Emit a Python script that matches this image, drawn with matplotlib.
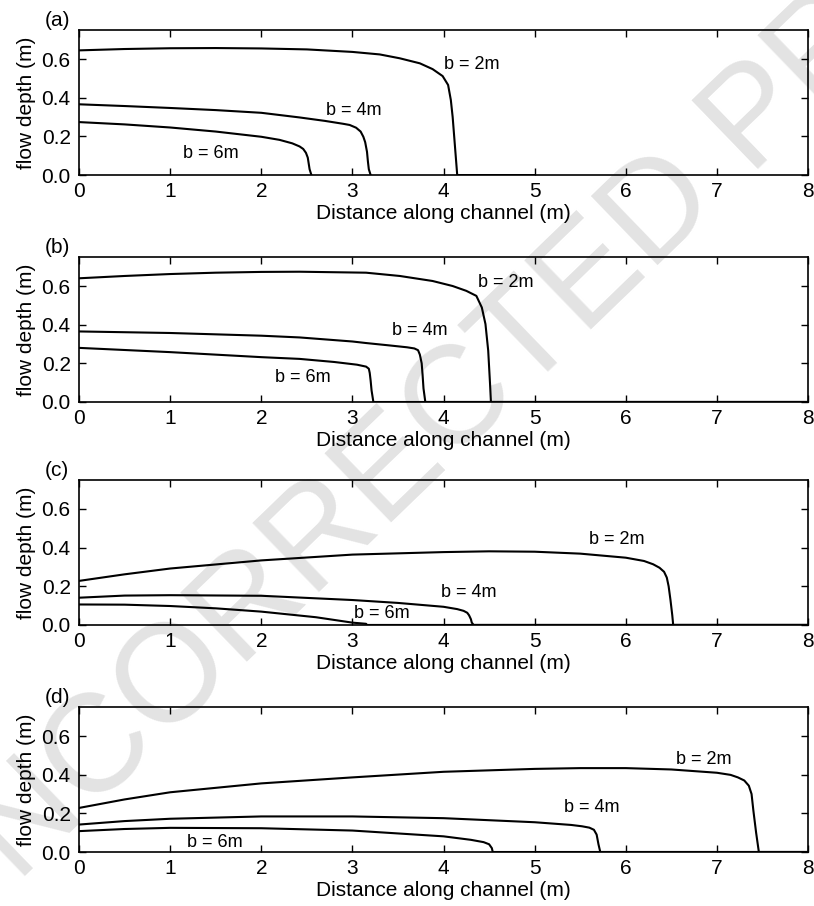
import matplotlib
matplotlib.use("Agg")
import matplotlib.pyplot as plt

plt.rcParams['font.family'] = ['Liberation Sans', 'DejaVu Sans']

# ---- data: (x, depth) for each channel width ----
# panel (a)
a_x2 = [0, 0.5, 1, 1.5, 2, 2.5, 3, 3.3, 3.52, 3.74, 3.88, 3.99, 4.05, 4.08, 4.10, 4.12, 4.14, 4.15, 5.0]
a_y2 = [0.645, 0.652, 0.656, 0.657, 0.655, 0.65, 0.637, 0.624, 0.604, 0.578, 0.548, 0.512, 0.466, 0.388, 0.30, 0.18, 0.06, 0, 0]
a_x4 = [0, 0.5, 1, 1.5, 2, 2.42, 2.7, 2.9, 2.97, 3.04, 3.09, 3.12, 3.14, 3.16, 3.17, 3.18, 3.2]
a_y4 = [0.366, 0.357, 0.347, 0.336, 0.322, 0.298, 0.28, 0.265, 0.259, 0.245, 0.225, 0.198, 0.17, 0.12, 0.07, 0.03, 0]
a_x6 = [0, 0.5, 1, 1.5, 2, 2.2, 2.34, 2.42, 2.46, 2.49, 2.51, 2.52, 2.53, 2.55]
a_y6 = [0.274, 0.262, 0.246, 0.225, 0.198, 0.182, 0.164, 0.148, 0.135, 0.115, 0.09, 0.06, 0.03, 0]

# panel (b)
b_x2 = [0, 0.5, 1, 1.5, 2, 2.42, 3.15, 3.52, 3.88, 4.10, 4.25, 4.36, 4.42, 4.46, 4.49, 4.51, 4.52, 8]
b_y2 = [0.640, 0.652, 0.662, 0.669, 0.673, 0.674, 0.669, 0.652, 0.626, 0.60, 0.575, 0.549, 0.489, 0.403, 0.266, 0.095, 0, 0]
b_x4 = [0, 1, 2, 2.42, 3, 3.15, 3.4, 3.6, 3.68, 3.72, 3.74, 3.76, 3.77, 3.78, 3.80, 8]
b_y4 = [0.365, 0.357, 0.343, 0.334, 0.313, 0.305, 0.293, 0.283, 0.277, 0.268, 0.245, 0.2, 0.14, 0.07, 0, 0]
b_x6 = [0, 1, 2, 2.42, 2.8, 3.05, 3.15, 3.18, 3.19, 3.20, 3.21, 3.23, 8]
b_y6 = [0.28, 0.258, 0.232, 0.223, 0.207, 0.193, 0.183, 0.172, 0.15, 0.11, 0.06, 0, 0]

# panel (c)
c_x2 = [0, 0.5, 1, 2, 3, 4, 4.5, 5, 5.5, 6, 6.2, 6.3, 6.37, 6.42, 6.45, 6.47, 6.49, 6.51, 6.52, 8]
c_y2 = [0.228, 0.262, 0.292, 0.334, 0.364, 0.377, 0.381, 0.379, 0.369, 0.348, 0.331, 0.314, 0.296, 0.275, 0.245, 0.2, 0.13, 0.05, 0, 0]
c_x4 = [0, 0.5, 1, 2, 3, 3.5, 4, 4.15, 4.22, 4.26, 4.28, 4.30, 4.31, 4.33, 8]
c_y4 = [0.141, 0.152, 0.154, 0.151, 0.129, 0.114, 0.094, 0.082, 0.073, 0.063, 0.05, 0.03, 0.012, 0, 0]
c_x6 = [0, 0.5, 1, 1.5, 2, 2.6, 3.0, 3.15, 3.16, 8]
c_y6 = [0.106, 0.105, 0.098, 0.086, 0.069, 0.04, 0.012, 0.006, 0, 0]

# panel (d)
d_x2 = [0, 0.5, 1, 2, 3, 4, 5, 5.5, 6, 6.5, 7, 7.15, 7.23, 7.3, 7.35, 7.38, 7.40, 7.43, 7.46, 8]
d_y2 = [0.228, 0.272, 0.309, 0.355, 0.386, 0.415, 0.43, 0.434, 0.434, 0.427, 0.41, 0.399, 0.386, 0.37, 0.343, 0.3, 0.214, 0.1, 0, 0]
d_x4 = [0, 0.5, 1, 2, 3, 4, 5, 5.4, 5.52, 5.6, 5.65, 5.68, 5.70, 5.72, 8]
d_y4 = [0.142, 0.16, 0.172, 0.184, 0.184, 0.175, 0.154, 0.14, 0.133, 0.126, 0.115, 0.09, 0.04, 0, 0]
d_x6 = [0, 0.5, 1, 2, 3, 4, 4.3, 4.44, 4.5, 4.53, 4.54, 8]
d_y6 = [0.108, 0.119, 0.125, 0.123, 0.111, 0.081, 0.063, 0.051, 0.04, 0.02, 0, 0]

panels = ['(a)', '(b)', '(c)', '(d)']
curves = [
    [(a_x2, a_y2), (a_x4, a_y4), (a_x6, a_y6)],
    [(b_x2, b_y2), (b_x4, b_y4), (b_x6, b_y6)],
    [(c_x2, c_y2), (c_x4, c_y4), (c_x6, c_y6)],
    [(d_x2, d_y2), (d_x4, d_y4), (d_x6, d_y6)],
]
labels = ['b = 2m', 'b = 4m', 'b = 6m']
# label anchors (x, y) in data units, left aligned
label_pos = [
    [(4.01, 0.574), (2.71, 0.336), (1.14, 0.112)],
    [(4.38, 0.617), (3.43, 0.369), (2.15, 0.129)],
    [(5.60, 0.441), (3.97, 0.166), (3.02, 0.060)],
    [(6.55, 0.480), (5.32, 0.232), (1.18, 0.051)],
]
xticks = [0, 1, 2, 3, 4, 5, 6, 7, 8]
yticks = [0.0, 0.2, 0.4, 0.6]

fig = plt.figure(figsize=(8.14, 9.06), dpi=100)

# watermark, behind everything
fig.text(0.615, 0.595, 'UNCORRECTED PROOF', fontsize=100, color='#e3e3e3',
         rotation=44, ha='center', va='center', zorder=-5)

bottoms = [0.8068, 0.5563, 0.3102, 0.0596]
for i in range(4):
    ax = fig.add_axes([0.0971, bottoms[i], 0.8956, 0.160])
    ax.patch.set_visible(False)
    for (x, y), lab, (lx, ly) in zip(curves[i], labels, label_pos[i]):
        ax.plot(x, y, color='black', lw=1.5, solid_joinstyle='round')
        ax.text(lx, ly, lab, fontsize=13, ha='left', va='center')
    ax.set_xlim(0, 8)
    ax.set_ylim(0, 0.75)
    ax.set_xticks(xticks)
    ax.set_yticks(yticks)
    ax.set_yticklabels(['%.1f' % v for v in yticks])
    ax.tick_params(direction='in', top=True, right=True, length=5,
                   labelsize=15, width=1)
    ax.tick_params(axis='x', pad=5)
    ax.tick_params(axis='y', pad=6)
    for s in ax.spines.values():
        s.set_linewidth(1.2)
    ax.set_xlabel('Distance along channel (m)', fontsize=15, labelpad=2)
    ax.set_ylabel('flow depth (m)', fontsize=15, labelpad=4)
    ax.text(-0.047, 1.0, panels[i], transform=ax.transAxes, fontsize=15,
            ha='left', va='bottom')

fig.savefig('out.png', dpi=100)
